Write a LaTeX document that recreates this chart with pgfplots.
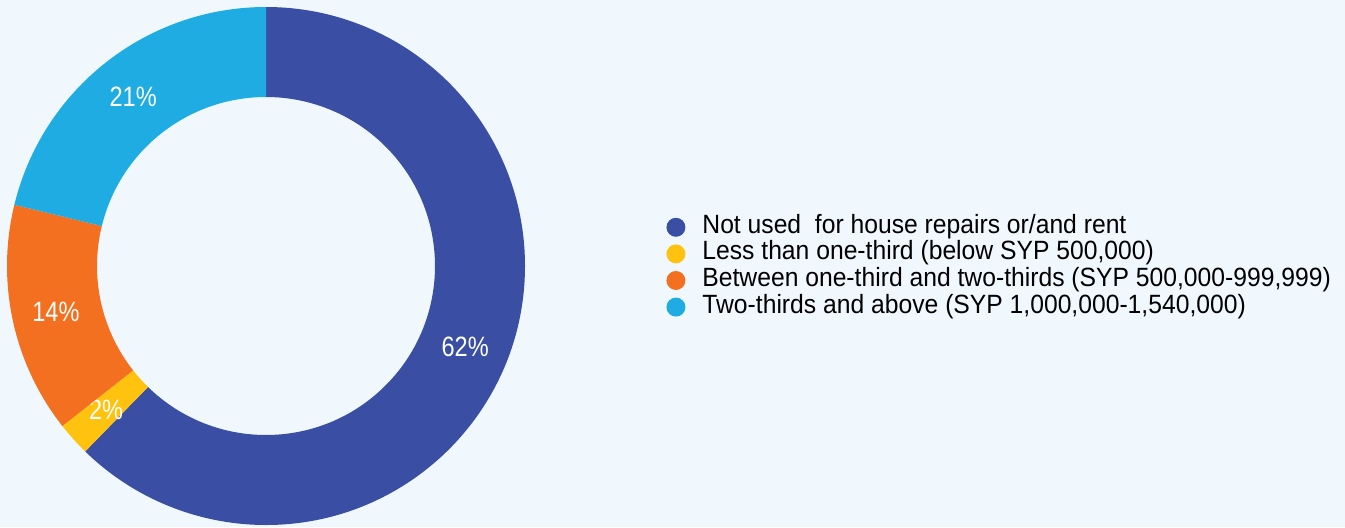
\documentclass[border=0pt]{standalone}
\usepackage{pgfplots}
\pgfplotsset{compat=1.18}
\usepackage{pgfplotstable}
\usepackage{fontspec}
\setmainfont{Liberation Sans}[FakeStretch=0.935]
\newfontfamily\labfont{Liberation Sans}[FakeStretch=0.84]
\definecolor{cBlue}{HTML}{3A4FA3}
\definecolor{cYellow}{HTML}{FFC20F}
\definecolor{cOrange}{HTML}{F47021}
\definecolor{cCyan}{HTML}{1EACE2}
\definecolor{bgcol}{HTML}{F0F8FE}
\tikzset{labelstyle/.style={font=\labfont\fontsize{14}{14}\selectfont, text=white, inner sep=0pt}}
\pgfplotstableread{
value color
62.3 cBlue
2.1 cYellow
14.4 cOrange
21.2 cCyan
}\piedata
\begin{document}
\begin{tikzpicture}
\pgfplotstablegetrowsof{\piedata}
\pgfmathtruncatemacro\nrows{\pgfplotsretval-1}
\gdef\sectors{}
\gdef\cum{0}
\foreach \i in {0,...,\nrows}{
  \pgfplotstablegetelem{\i}{value}\of\piedata \let\v\pgfplotsretval
  \pgfplotstablegetelem{\i}{color}\of\piedata \let\colname\pgfplotsretval
  \pgfmathsetmacro\aone{90-3.6*\cum}
  \pgfmathsetmacro\atwo{90-3.6*(\cum+\v)}
  \pgfmathsetmacro\amid{(\aone+\atwo)/2}
  \pgfmathsetmacro\xo{129.5*cos(\aone)}
  \pgfmathsetmacro\yo{129.5*sin(\aone)}
  \pgfmathsetmacro\xin{84.5*cos(\atwo)}
  \pgfmathsetmacro\yin{84.5*sin(\atwo)}
  \pgfmathsetmacro\xm{107.5*cos(\amid)}
  \pgfmathsetmacro\ym{107.5*sin(\amid)}
  \pgfmathtruncatemacro\lab{round(\v)}
  \xdef\sectors{\unexpanded\expandafter{\sectors}%
    \noexpand\fill[\colname] (axis cs:\xo,\yo) arc[start angle=\aone, end angle=\atwo, radius=129.5pt]
      -- (axis cs:\xin,\yin) arc[start angle=\atwo, end angle=\aone, radius=84.5pt] -- cycle;
    \noexpand\node[labelstyle] at (axis cs:\xm,\ym) {\lab\noexpand\%};
  }
  \pgfmathsetmacro\newcum{\cum+\v}
  \xdef\cum{\newcum}
}
\begin{axis}[
  hide axis, scale only axis, clip=false,
  x=1pt, y=1pt,
  xmin=-133, xmax=539.5, ymin=-130.5, ymax=133,
  legend image code/.code={\fill[#1, draw=none] (4.75pt,0pt) circle (4.75pt);},
  legend style={at={(0.4952,0.493)}, anchor=west, draw=none, fill=none,
    inner sep=0pt, font=\fontsize{13.2}{13.4}\selectfont,
    nodes={inner sep=0pt, text height=9.7pt, text depth=3.6pt},
    row sep=0pt, column sep=8.5pt},
  legend cell align=left,
]
\fill[bgcol] (rel axis cs:0,0) rectangle (rel axis cs:1,1);
\sectors
\addlegendimage{fill=cBlue}
\addlegendimage{fill=cYellow}
\addlegendimage{fill=cOrange}
\addlegendimage{fill=cCyan}
\legend{Not used\ \ for house repairs or/and rent,
  Less than one-third (below SYP 500{,}000),
  Between one-third and two-thirds (SYP 500{,}000-999{,}999),
  Two-thirds and above (SYP 1{,}000{,}000-1{,}540{,}000)}
\end{axis}
\pgfresetboundingbox
\path[use as bounding box] (current axis.south west) rectangle (current axis.north east);
\end{tikzpicture}
\end{document}
